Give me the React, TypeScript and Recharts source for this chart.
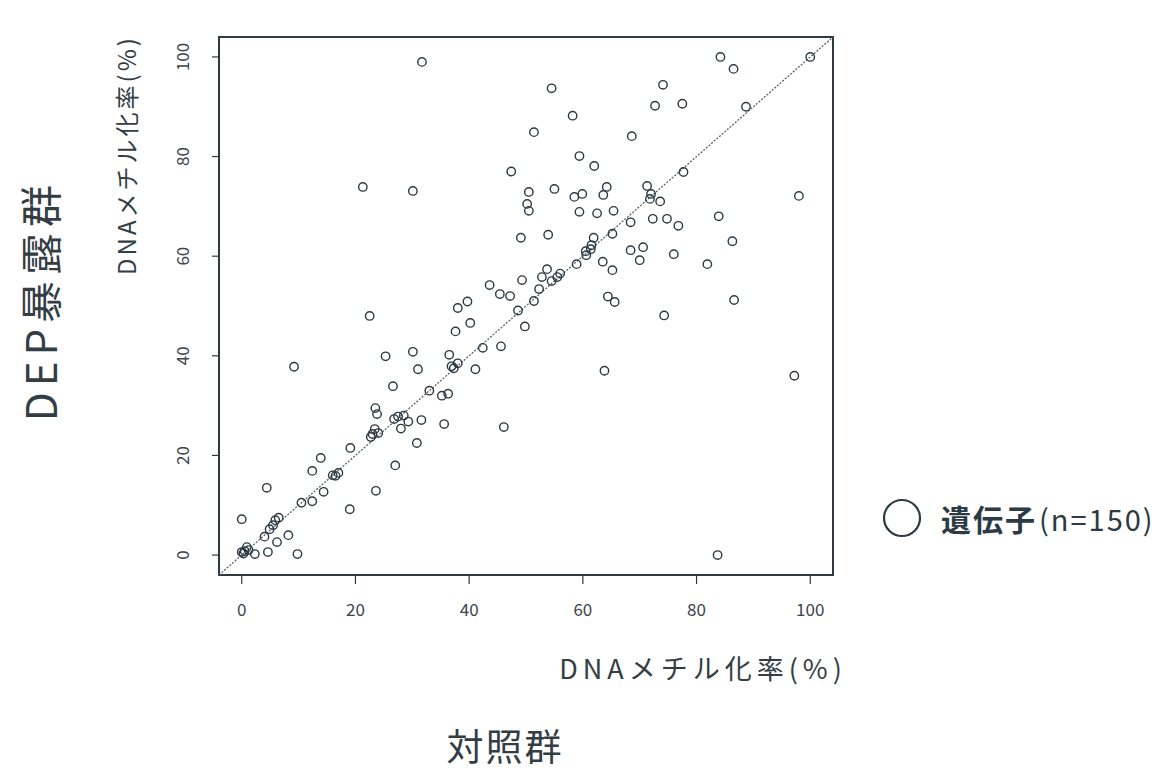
import React from 'react';
import {
  ScatterChart,
  Scatter,
  XAxis,
  YAxis,
  ReferenceLine,
  ReferenceArea,
} from 'recharts';

// 対照群 (x) vs DEP暴露群 (y) のDNAメチル化率(%)
const controlRate: number[] = [
  31.7, 84.2, 86.5, 100, 54.5, 74.1, 72.7, 77.5, 88.7, 58.2,
  51.4, 68.6, 59.4, 62.0, 77.7, 47.4, 21.3, 30.1, 55.0, 50.5,
  50.2, 50.5, 58.5, 59.9, 64.2, 63.6, 71.3, 71.8, 73.6, 98.0,
  59.4, 62.5, 65.4, 68.4, 72.3, 74.8, 76.8, 83.9, 49.1, 53.9,
  61.9, 65.2, 61.4, 60.6, 58.9, 63.5, 65.2, 68.4, 70.6, 70.0,
  76.0, 81.9, 86.3, 53.7, 52.8, 49.3, 52.3, 51.4, 43.6, 45.4,
  47.2, 64.4, 65.6, 86.6, 74.3, 39.7, 38.0, 48.6, 40.2, 37.6,
  49.8, 63.8, 97.2, 83.7, 22.5, 25.3, 30.1, 31.0, 36.5, 36.9,
  42.4, 45.6, 41.1, 9.2, 26.6, 35.2, 36.3, 23.5, 23.8, 26.8,
  29.3, 31.6, 28.0, 35.6, 46.1, 23.0, 30.8, 19.1, 27.0, 13.9,
  12.4, 16.5, 4.4, 14.4, 12.4, 19.0, 23.6, 0, 5.9, 4.9,
  4.0, 8.2, 0, 2.3, 4.6, 9.8, 0.9, 6.2, 22.7, 23.4,
  0.3, 1.2, 0.5, 5.5, 6.5, 55.5, 56.0, 54.5, 61.5, 60.5,
  27.5, 28.5, 37.3, 38.0, 17.0, 16.0, 72.0, 24.0, 10.5, 33.0,
];

const exposedRate: number[] = [
  99.0, 100, 97.6, 100, 93.7, 94.4, 90.2, 90.6, 90.0, 88.2,
  84.9, 84.1, 80.1, 78.1, 76.9, 77.0, 73.9, 73.1, 73.5, 72.9,
  70.5, 69.1, 71.9, 72.5, 73.9, 72.3, 74.1, 71.5, 71.0, 72.1,
  68.9, 68.6, 69.1, 66.8, 67.5, 67.5, 66.1, 68.0, 63.7, 64.3,
  63.7, 64.5, 61.4, 60.2, 58.4, 58.9, 57.2, 61.2, 61.8, 59.2,
  60.4, 58.4, 63.0, 57.4, 55.8, 55.2, 53.4, 51.0, 54.2, 52.4,
  52.0, 51.9, 50.8, 51.2, 48.1, 50.9, 49.6, 49.1, 46.6, 44.9,
  45.9, 37.0, 36.0, 0.0, 48.0, 39.9, 40.8, 37.3, 40.2, 37.9,
  41.6, 41.9, 37.3, 37.8, 33.9, 32.0, 32.4, 29.5, 28.3, 27.3,
  26.8, 27.1, 25.4, 26.3, 25.7, 24.3, 22.5, 21.5, 18.0, 19.5,
  16.9, 15.9, 13.5, 12.7, 10.8, 9.2, 12.9, 7.2, 7.0, 5.2,
  3.7, 4.0, 0.6, 0.2, 0.6, 0.2, 1.6, 2.6, 23.7, 25.3,
  0.3, 1.0, 0.8, 6.0, 7.5, 55.8, 56.5, 55.0, 62.2, 61.0,
  27.8, 28.0, 37.5, 38.5, 16.5, 16.0, 72.5, 24.5, 10.5, 33.0,
];

const tickValues = [0, 20, 40, 60, 80, 100];

const genes = controlRate.map((x, i) => ({ x, y: exposedRate[i] }));

const INK = '#2c3a44';
const TEXT = '#333d44';
const FONT = '"Noto Sans CJK JP", "Noto Sans", sans-serif';

const XTick = ({ x, y, payload }: any) => (
  <text x={x} y={y + 30} textAnchor="middle" fill="#3a454d" fontSize={17} fontFamily={FONT}>
    {payload.value}
  </text>
);

const YTick = ({ x, y, payload }: any) => (
  <text
    x={x - 26}
    y={y}
    textAnchor="middle"
    fill="#3a454d"
    fontSize={17}
    fontFamily={FONT}
    transform={`rotate(-90, ${x - 26}, ${y})`}
    dominantBaseline="middle"
  >
    {payload.value}
  </text>
);

const Dot = ({ cx, cy }: any) => (
  <circle cx={cx} cy={cy} r={4.2} fill="none" stroke={INK} strokeWidth={1.4} />
);

const App: React.FC = () => {
  return (
    <div style={{ position: 'relative', width: 1160, height: 757, fontFamily: FONT }}>
      <ScatterChart
        width={1160}
        height={757}
        margin={{ top: 29, right: 335, bottom: 150, left: 171 }}
      >
        <XAxis
          type="number"
          dataKey="x"
          domain={[-4, 104]}
          ticks={tickValues}
          allowDataOverflow
          height={40}
          axisLine={false}
          tickLine={{ stroke: INK, strokeWidth: 1.2 }}
          tickSize={9}
          tick={<XTick />}
        />
        <YAxis
          type="number"
          dataKey="y"
          domain={[-4, 104]}
          ticks={tickValues}
          allowDataOverflow
          width={40}
          axisLine={false}
          tickLine={{ stroke: INK, strokeWidth: 1.2 }}
          tickSize={7}
          tick={<YTick />}
        />
        <ReferenceArea
          x1={-4}
          x2={104}
          y1={-4}
          y2={104}
          fill="none"
          stroke={INK}
          strokeWidth={2}
          ifOverflow="visible"
        />
        <ReferenceLine
          segment={[
            { x: -4, y: -4 },
            { x: 104, y: 104 },
          ]}
          stroke="#5a646b"
          strokeWidth={1.3}
          strokeDasharray="2 1.5"
          ifOverflow="visible"
        />
        <Scatter data={genes} shape={<Dot />} isAnimationActive={false} />
      </ScatterChart>

      {/* legend */}
      <div
        style={{
          position: 'absolute',
          left: 881 - 8,
          top: 518 - 8 - 21,
          width: 300,
          height: 42,
          display: 'flex',
          alignItems: 'center',
          whiteSpace: 'nowrap',
          color: INK,
        }}
      >
        <svg width={42} height={42} style={{ flexShrink: 0 }}>
          <circle cx={21} cy={21} r={18} fill="none" stroke={INK} strokeWidth={2.2} />
        </svg>
        <span style={{ fontSize: 30, fontWeight: 700, marginLeft: 18, letterSpacing: 2 }}>遺伝子</span>
        <span style={{ fontSize: 29, marginLeft: 2, letterSpacing: 2 }}>(n=150)</span>
      </div>

      <div
        style={{
          position: 'absolute',
          left: 126 - 8 - 150,
          top: 155 - 8 - 15,
          width: 300,
          height: 30,
          textAlign: 'center',
          transform: 'rotate(-90deg)',
          fontSize: 24,
          letterSpacing: 3,
          color: TEXT,
          lineHeight: '30px',
          whiteSpace: 'nowrap',
        }}
      >
        DNAメチル化率(%)
      </div>
      <div
        style={{
          position: 'absolute',
          left: 39 - 8 - 150,
          top: 300 - 8 - 25,
          width: 300,
          height: 50,
          textAlign: 'center',
          transform: 'rotate(-90deg)',
          fontSize: 42,
          letterSpacing: 6,
          color: TEXT,
          lineHeight: '50px',
          whiteSpace: 'nowrap',
        }}
      >
        DEP暴露群
      </div>
      <div
        style={{
          position: 'absolute',
          left: 703 - 8 - 200,
          top: 668 - 8 - 16,
          width: 400,
          textAlign: 'center',
          fontSize: 27,
          letterSpacing: 5,
          color: TEXT,
          lineHeight: '32px',
          whiteSpace: 'nowrap',
        }}
      >
        DNAメチル化率(%)
      </div>
      <div
        style={{
          position: 'absolute',
          left: 505 - 8 - 150,
          top: 745 - 8 - 25,
          width: 300,
          textAlign: 'center',
          fontSize: 37,
          letterSpacing: 2,
          color: TEXT,
          lineHeight: '50px',
        }}
      >
        対照群
      </div>
    </div>
  );
};

export default App;
